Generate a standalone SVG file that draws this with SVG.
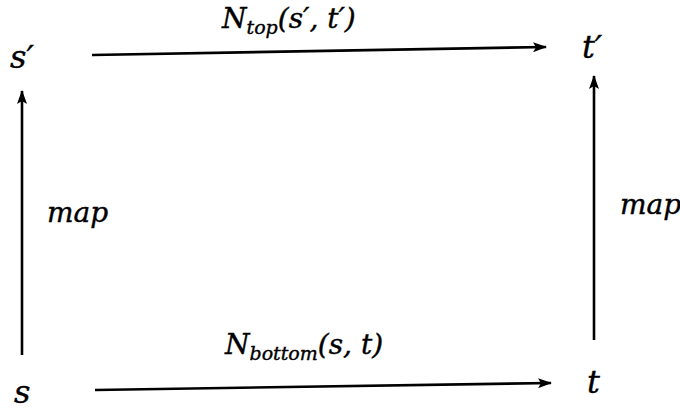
<svg xmlns="http://www.w3.org/2000/svg" width="680" height="412" viewBox="0 0 680 412">
<style>
text{font-family:'DejaVu Serif',serif;font-style:italic;fill:#000;stroke:#000;stroke-width:0.4}
.node{font-size:32px}
.edge{font-size:28px}
.sub{font-size:19px}
.ln{stroke:#000;stroke-width:2.6;fill:none}
</style>
<defs>
<marker id="ah" markerUnits="userSpaceOnUse" markerWidth="14" markerHeight="10" refX="13" refY="5" orient="auto">
<path d="M0,0 L14,5 L0,10 L3,5 z" fill="#000"/>
</marker>
</defs>
<rect width="680" height="412" fill="#fff"/>
<g id="connectors">
<line class="ln" x1="92" y1="55" x2="546" y2="47" marker-end="url(#ah)"/>
<line class="ln" x1="95" y1="390" x2="551" y2="383" marker-end="url(#ah)"/>
<line class="ln" x1="22" y1="355" x2="22" y2="91" marker-end="url(#ah)"/>
<line class="ln" x1="594" y1="340" x2="594" y2="76" marker-end="url(#ah)"/>
<text class="edge" x="222" y="28">N<tspan class="sub" dy="6">top</tspan><tspan dy="-6">(s′, t′)</tspan></text>
<text class="edge" x="225" y="354">N<tspan class="sub" dy="6">bottom</tspan><tspan dy="-6">(s, t)</tspan></text>
<text class="edge" x="47" y="222" style="font-size:28px">map</text>
<text class="edge" x="620" y="214" style="font-size:28px">map</text>
</g>
<g id="node-s-prime"><text class="node" x="10" y="68">s′</text></g>
<g id="node-t-prime"><text class="node" x="582" y="58">t′</text></g>
<g id="node-s"><text class="node" x="14" y="403">s</text></g>
<g id="node-t"><text class="node" x="587" y="393">t</text></g>
</svg>
